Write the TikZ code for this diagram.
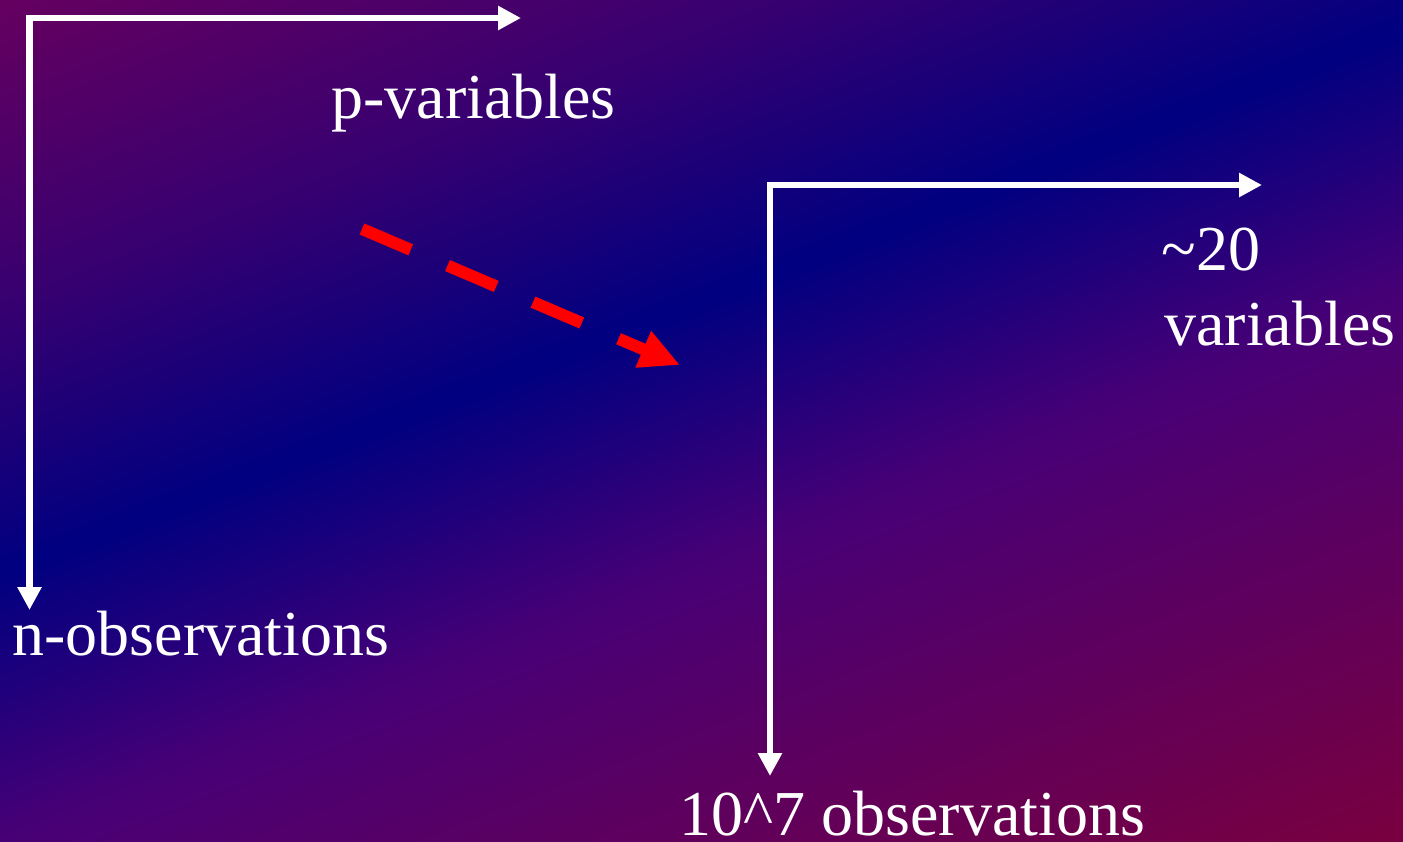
\documentclass[tikz,border=0pt]{standalone}
\usepackage{fontspec}
\setmainfont{Liberation Serif}
\usetikzlibrary{arrows.meta}

\definecolor{bgnavy}{RGB}{0,0,128}
\definecolor{bgred}{RGB}{122,0,62}
\definecolor{bglow}{RGB}{72,0,118}
\definecolor{bghigh}{RGB}{55,0,112}
\definecolor{bgpurple}{RGB}{100,0,96}
\pgfdeclareverticalshading{slidebg}{100bp}{color(0bp)=(bgred); color(34bp)=(bgred);
  color(44.8bp)=(bglow); color(50bp)=(bgnavy); color(55.2bp)=(bghigh);
  color(61bp)=(bgpurple); color(100bp)=(bgpurple)}

\begin{document}
\begin{tikzpicture}[x=0.5pt,y=-0.5pt,
    axis/.style={draw=white,line width=3.25pt,line join=miter,
      {Triangle[length=11.5pt,width=11.5pt]}-{Triangle[length=11.5pt,width=11.5pt]}},
    todata/.style={draw=red,line width=6pt,dash pattern=on 26.5pt off 20pt,
      -{Triangle[length=20pt,width=18.5pt]}},
    axislabel/.style={text=white,font=\fontsize{32}{38.5}\selectfont,
      inner sep=0pt,anchor=base west}]
    \useasboundingbox (0,0) rectangle (1403,841);

    % Background
    \begin{scope}
      \clip (0,0) rectangle (1403,841);
      \begin{scope}[transform canvas={rotate around={21.2:(700,302)}}]
        \shade[shading=slidebg] (700,302) ++(-1200,-1200) rectangle ++(2400,2400);
      \end{scope}
    \end{scope}

    % Large table: n x p
    \coordinate (lytip) at (29.5,610);
    \coordinate (lxtip) at (521,18);
    \draw[axis] (lytip) |- (lxtip);
    \node[axislabel] (pvar) at (331,118) {p-variables};
    \node[axislabel] (nobs) at (12,655) {n-observations};

    % Reduced table
    \coordinate (rytip) at (770,776);
    \coordinate (rxtip) at (1262,185);
    \draw[axis] (rytip) |- (rxtip);
    \node[axislabel] (kvar) at (1161,270) {\textasciitilde20};
    \node[axislabel] (kvarb) at (1164,345) {variables};
    \node[axislabel] (bigobs) at (679,835) {10\textasciicircum7 observations};

    % Reduction
    \coordinate (dstart) at (362,229);
    \coordinate (dend) at (680,365);
    \draw[todata] (dstart) -- (dend);
  \end{tikzpicture}
\end{document}
